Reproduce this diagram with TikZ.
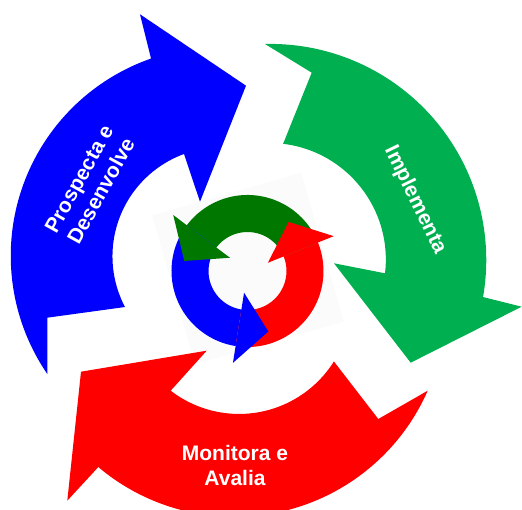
\documentclass[tikz,border=0pt]{standalone}
\usepackage{fontspec}
\setmainfont{Liberation Sans}
\definecolor{bigGreen}{RGB}{0,176,80}
\definecolor{iconGreen}{RGB}{0,120,0}
\begin{document}
\begin{tikzpicture}[x=1pt,y=1pt,
  phase text/.style={text=white,font=\fontsize{21}{25}\selectfont\bfseries,align=center,inner sep=0pt},
  icon back/.style={fill=black!1.5,minimum size=155pt,inner sep=0pt,rotate=16}]

  \useasboundingbox (0,0) rectangle (522,510);
  \coordinate (hub) at (247.5,239);
  \node[icon back] (back) at (248,241.5) {};

  % three big phase arrows
  \fill[blue] (47.3,136) arc[start angle=214.4,end angle=109.2,radius=209]
    -- (140,495.7) -- (246,424.3) -- (200,308.3)
    -- (184,356) arc[start angle=110.1,end angle=207.7,radius=109]
    -- (47.3,192.3) -- cycle;
  \fill[bigGreen] (265,466) arc[start angle=91.4,end angle=-9.9,radius=216]
    -- (521.7,203.3) -- (410.7,147.3) -- (334,246.7)
    -- (385,236.7) arc[start angle=-6.8,end angle=83.2,radius=116.5]
    -- (311.7,437.3) -- cycle;
  \fill[red] (427.7,119.3) arc[start angle=-23.7,end angle=-130.2,radius=211]
    -- (67.3,9.3) -- (81,138.3) -- (206.7,159.3)
    -- (170.7,119.3) arc[start angle=-127.6,end angle=-32.1,radius=112]
    -- (378.3,91) -- cycle;

  \node[phase text,rotate=61] (dev) at (90,325) {Prospecta e\\Desenvolve};
  \node[phase text,rotate=-64] (impl) at (415,310) {Implementa};
  \node[phase text] (mon) at (235,45) {Monitora e\\Avalia};

  % small cycle in the middle
  \foreach \a/\b/\col in {22/143/iconGreen,143/261/blue,261/382/red}
    \fill[\col,shift={(hub)}] (\a:76) arc[start angle=\a,end angle=\b,radius=76]
      -- (\b:39) arc[start angle=\b,end angle=\a,radius=39] -- cycle;
  \foreach \b/\col in {143/iconGreen,261/blue,382/red}
    \fill[\col,shift={(hub)}] (\b:22) -- (\b:93) -- ({\b+28}:64) -- cycle;
\end{tikzpicture}
\end{document}
